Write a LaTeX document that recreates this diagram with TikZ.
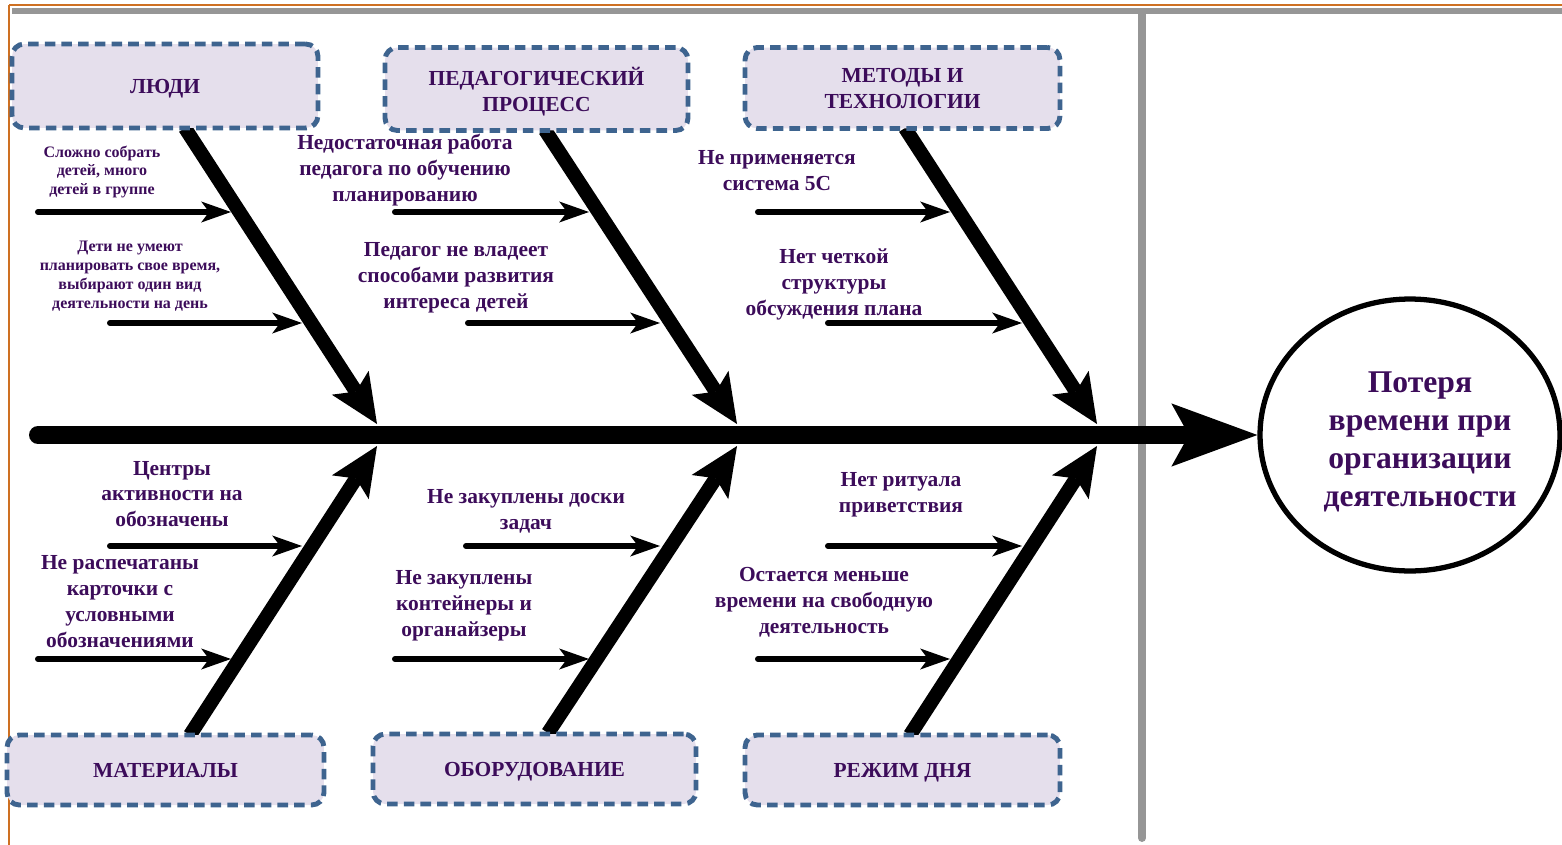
\documentclass[tikz,border=0pt]{standalone}
\usepackage{fontspec}
\setmainfont{Liberation Serif}
\usetikzlibrary{arrows.meta,shapes.geometric}
\definecolor{txt}{RGB}{60,12,90}
\definecolor{boxfill}{RGB}{229,223,236}
\definecolor{boxline}{RGB}{62,100,143}
\definecolor{frameor}{RGB}{206,112,34}
\definecolor{framegr}{RGB}{150,150,150}
\tikzset{
  catbox/.style={draw=boxline, fill=boxfill, line width=2.8pt, dash pattern=on 6pt off 3.5pt,
    rounded corners=7pt, text=txt, font=\bfseries\fontsize{12.2}{14.7}\selectfont, align=center, inner sep=0pt,
    text depth=0pt},
  lbl/.style={text=txt, font=\bfseries\fontsize{12.2}{14.7}\selectfont, align=center, inner sep=0pt},
  slbl/.style={text=txt, font=\bfseries\fontsize{9.1}{10.8}\selectfont, align=center, inner sep=0pt},
  bone/.style={line width=8pt, -{Stealth[length=28pt,width=25pt,inset=6pt,line width=0pt]}},
  spine/.style={line width=10.2pt, line cap=round, -{Stealth[length=49pt,width=36pt,inset=10pt,line width=0pt]}},
  subarrow/.style={line width=3.4pt, line cap=round, -{Stealth[length=17pt,width=12pt,inset=4.5pt,line width=0pt]}},
}
\begin{document}
\begin{tikzpicture}[x=0.02cm,y=-0.02cm]
\useasboundingbox (0,0) rectangle (1562,845);
% frame
\fill[framegr] (12,8) rectangle (1562,14);
\draw[frameor, line width=1.2pt] (9,5) -- (1562,5);
\draw[frameor, line width=1.2pt] (9,5) -- (9,845);
\draw[framegr, line width=4.5pt, line cap=round] (1142,14) -- (1142,838);

% goal
\node[draw, ellipse, line width=3pt, fill=white, minimum width=6cm, minimum height=5.44cm, inner sep=0pt]
  (goal) at (1410,435) {};
\node[text=txt, font=\bfseries\fontsize{18}{21.7}\selectfont, align=center, inner sep=0pt]
  (goaltext) at (1420,442) {Потеря\\времени при\\организации\\деятельности};

% spine
\coordinate (sp0) at (38,435);
\draw[spine] (sp0) -- (goal);

% bones
\coordinate (b1s) at (185,128); \coordinate (b1e) at (377,424);
\coordinate (b2s) at (545,130); \coordinate (b2e) at (737,424);
\coordinate (b3s) at (905,128); \coordinate (b3e) at (1097,424);
\coordinate (b4s) at (190,735); \coordinate (b4e) at (377,446);
\coordinate (b5s) at (548,733); \coordinate (b5e) at (737,446);
\coordinate (b6s) at (910,735); \coordinate (b6e) at (1097,446);
\foreach \i in {1,...,6} {\draw[bone] (b\i s) -- (b\i e);}

% sub arrows
\coordinate (a1s) at (38,212);  \coordinate (a1e) at (231,212);
\coordinate (a2s) at (110,323); \coordinate (a2e) at (302,323);
\coordinate (a3s) at (395,212); \coordinate (a3e) at (589,212);
\coordinate (a4s) at (468,323); \coordinate (a4e) at (660,323);
\coordinate (a5s) at (758,212); \coordinate (a5e) at (950,212);
\coordinate (a6s) at (828,323); \coordinate (a6e) at (1022,323);
\coordinate (a7s) at (110,546); \coordinate (a7e) at (302,546);
\coordinate (a8s) at (38,659);  \coordinate (a8e) at (231,659);
\coordinate (a9s) at (466,546); \coordinate (a9e) at (660,546);
\coordinate (a10s) at (395,659); \coordinate (a10e) at (589,659);
\coordinate (a11s) at (828,546); \coordinate (a11e) at (1022,546);
\coordinate (a12s) at (758,659); \coordinate (a12e) at (950,659);
\foreach \i in {1,...,12} {\draw[subarrow] (a\i s) -- (a\i e);}

% category boxes
\node[catbox, minimum width=6.12cm, minimum height=1.68cm] (people) at (165,86) {ЛЮДИ};
\node[catbox, minimum width=6.06cm, minimum height=1.66cm] (pedproc) at (536.5,89) {ПЕДАГОГИЧЕСКИЙ\\ПРОЦЕСС};
\node[catbox, minimum width=6.3cm, minimum height=1.62cm] (methods) at (902.5,88) {МЕТОДЫ И\\ТЕХНОЛОГИИ};
\node[catbox, minimum width=6.34cm, minimum height=1.4cm] (materials) at (165.5,770) {МАТЕРИАЛЫ};
\node[catbox, minimum width=6.46cm, minimum height=1.4cm] (equip) at (534.5,769) {ОБОРУДОВАНИЕ};
\node[catbox, minimum width=6.3cm, minimum height=1.4cm] (regime) at (902.5,770) {РЕЖИМ ДНЯ};

% labels
\node[slbl] (t1) at (102,172) {Сложно собрать\\детей, много\\детей в группе};
\node[slbl] (t2) at (130,276) {Дети не умеют\\планировать свое время,\\выбирают один вид\\деятельности на день};
\node[lbl] (t3) at (405,170) {Недостаточная работа\\педагога по обучению\\планированию};
\node[lbl] (t4) at (456,278) {Педагог не владеет\\способами развития\\интереса детей};
\node[lbl] (t5) at (777,170.5) {Не применяется\\система 5С};
\node[lbl] (t6) at (834,284.5) {Нет четкой\\структуры\\обсуждения плана};
\node[lbl] (t7) at (172,494) {Центры\\активности на\\обозначены};
\node[lbl] (t8) at (120,601.5) {Не распечатаны\\карточки с\\условными\\обозначениями};
\node[lbl] (t9) at (526,511) {Не закуплены доски\\задач};
\node[lbl] (t10) at (464,606) {Не закуплены\\контейнеры и\\органайзеры};
\node[lbl] (t11) at (901,495) {Нет ритуала\\приветствия};
\node[lbl] (t12) at (824,602) {Остается меньше\\времени на свободную\\деятельность};
\end{tikzpicture}
\end{document}
